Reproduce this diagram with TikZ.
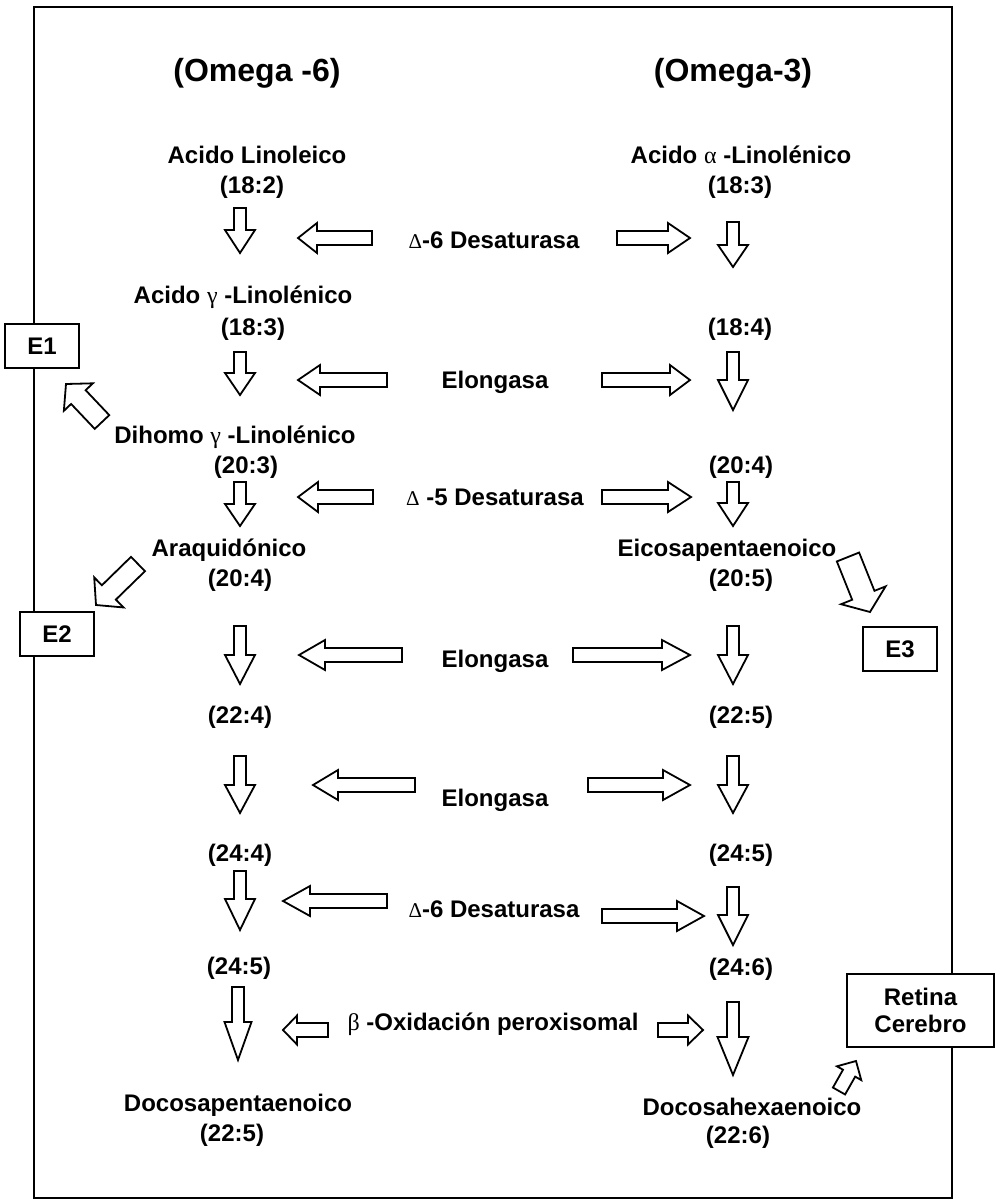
\documentclass[tikz,border=0pt]{standalone}
\usepackage{fontspec}
\setmainfont{Liberation Sans}
\newfontfamily\greekfont{Liberation Serif}
\usetikzlibrary{calc}

\newcommand{\grk}[1]{{\greekfont\mdseries #1}}
\newcommand{\smalldelta}{{\greekfont\mdseries\fontsize{10.5}{10.5}\selectfont Δ}}
% hollow block arrow: tail, tip, half shaft, half head, head length
\newcommand{\blockarrow}[5]{%
  \coordinate (hb) at ($(#2)!#5!(#1)$);
  \draw[blockline] ($(#1)!#3!90:(#2)$) -- ($(hb)!#3!90:(#2)$) -- ($(hb)!#4!90:(#2)$)
    -- (#2) -- ($(hb)!#4!-90:(#2)$) -- ($(hb)!#3!-90:(#2)$) -- ($(#1)!#3!-90:(#2)$) -- cycle;}

\begin{document}
\begin{tikzpicture}[x=0.5pt,y=-0.5pt,
  txt/.style={font=\fontsize{12}{14}\selectfont\bfseries,inner sep=0pt,text height=8.6pt,text depth=0pt},
  head/.style={font=\fontsize{16}{18}\selectfont\bfseries,inner sep=0pt,text height=11.5pt,text depth=0pt},
  ebox/.style={draw,fill=white,line width=0.8pt,font=\fontsize{12}{14}\selectfont\bfseries,inner sep=0pt,
    text height=8.6pt,text depth=0pt,minimum width=37pt,minimum height=22pt},
  blockline/.style={line width=0.9pt,fill=white,line join=miter}]
  \useasboundingbox (0,0) rectangle (999,1201);
  \draw[line width=1.1pt] (34,7) rectangle (952,1198);

  \node[head] (om6) at (257,70) {(Omega -6)};
  \node[head] (om3) at (733,70) {(Omega-3)};

  % omega-6 column
  \node[txt] (lino) at (257,155) {Acido Linoleico};
  \node[txt] (lino2) at (252,185) {(18:2)};
  \node[txt] (gla) at (243,295) {Acido \grk{γ} -Linolénico};
  \node[txt] (gla2) at (253,327) {(18:3)};
  \node[txt] (dgla) at (235,435) {Dihomo \grk{γ} -Linolénico};
  \node[txt] (dgla2) at (246,465) {(20:3)};
  \node[txt] (ara) at (229,548) {Araquidónico};
  \node[txt] (ara2) at (240,578) {(20:4)};
  \node[txt] (l224) at (240,715) {(22:4)};
  \node[txt] (l244) at (240,853) {(24:4)};
  \node[txt] (l245) at (239,966) {(24:5)};
  \node[txt] (dpa) at (238,1103) {Docosapentaenoico};
  \node[txt] (dpa2) at (232,1133) {(22:5)};

  % omega-3 column
  \node[txt] (ala) at (741,155) {Acido \grk{α} -Linolénico};
  \node[txt] (ala2) at (740,185) {(18:3)};
  \node[txt] (r184) at (740,327) {(18:4)};
  \node[txt] (r204) at (741,465) {(20:4)};
  \node[txt] (epa) at (727,548) {Eicosapentaenoico};
  \node[txt] (epa2) at (741,578) {(20:5)};
  \node[txt] (r225) at (741,715) {(22:5)};
  \node[txt] (r245) at (741,853) {(24:5)};
  \node[txt] (r246) at (741,967) {(24:6)};
  \node[txt] (dha) at (752,1107) {Docosahexaenoico};
  \node[txt] (dha2) at (738,1135) {(22:6)};

  % enzymes
  \node[txt] (des6a) at (494,240) {\smalldelta-6 Desaturasa};
  \node[txt] (elo1) at (495,380) {Elongasa};
  \node[txt] (des5) at (495,497) {\smalldelta\ -5 Desaturasa};
  \node[txt] (elo2) at (495,659) {Elongasa};
  \node[txt] (elo3) at (495,798) {Elongasa};
  \node[txt] (des6b) at (494,909) {\smalldelta-6 Desaturasa};
  \node[txt] (boxid) at (493,1022) {\grk{β} -Oxidación peroxisomal};

  % boxes
  \node[ebox] (e1) at (42,346) {E1};
  \node[ebox] (e2) at (57,634) {E2};
  \node[ebox] (e3) at (900,649) {E3};
  \node[draw,fill=white,line width=0.8pt,font=\fontsize{12}{13.5}\selectfont\bfseries,align=center,
    minimum width=73.5pt,minimum height=36.5pt,inner sep=0pt] (ret) at (920.5,1010.5) {Retina\\Cerebro};

  % down arrows
  \blockarrow{240,208}{240,253}{3pt}{7.5pt}{11.5pt}
  \blockarrow{240,352}{240,395}{3pt}{7.5pt}{11pt}
  \blockarrow{240,482}{240,526}{3pt}{7.5pt}{11pt}
  \blockarrow{240,626}{240,684}{3pt}{7.5pt}{14.5pt}
  \blockarrow{240,756}{240,813}{3pt}{7.5pt}{14pt}
  \blockarrow{240,871}{240,930}{3pt}{7.5pt}{15.5pt}
  \blockarrow{238,987}{238,1060}{3pt}{6.75pt}{19pt}
  \blockarrow{733,222}{733,267}{3pt}{7.5pt}{11pt}
  \blockarrow{733,352}{733,410}{3pt}{7.5pt}{15pt}
  \blockarrow{733,482}{733,526}{3pt}{7.5pt}{11.5pt}
  \blockarrow{733,626}{733,684}{3pt}{7.5pt}{14.5pt}
  \blockarrow{733,756}{733,813}{3pt}{7.5pt}{14pt}
  \blockarrow{733,887}{733,945}{3pt}{7.5pt}{15pt}
  \blockarrow{733,1002}{733,1075}{3pt}{7.75pt}{19pt}

  % enzyme arrows
  \blockarrow{372,238}{298,238}{3.5pt}{7.5pt}{9.5pt}
  \blockarrow{387,380}{298,380}{3.5pt}{7.5pt}{11pt}
  \blockarrow{373,497}{298,497}{3.5pt}{7.5pt}{10pt}
  \blockarrow{402,655}{299,655}{3.5pt}{7.5pt}{13pt}
  \blockarrow{415,785}{313,785}{3.5pt}{7.5pt}{12.5pt}
  \blockarrow{387,901}{283,901}{3.5pt}{7.5pt}{13.5pt}
  \blockarrow{328,1030}{283,1030}{3.5pt}{7.25pt}{7pt}
  \blockarrow{617,238}{690,238}{3.5pt}{7.5pt}{11pt}
  \blockarrow{602,380}{690,380}{3.5pt}{7.5pt}{10pt}
  \blockarrow{602,497}{691,497}{3.5pt}{7.5pt}{11.5pt}
  \blockarrow{573,655}{690,655}{3.5pt}{7.5pt}{14pt}
  \blockarrow{588,785}{690,785}{3.5pt}{7.5pt}{13.5pt}
  \blockarrow{602,916}{704,916}{3.5pt}{7.5pt}{13.5pt}
  \blockarrow{658,1030}{703,1030}{3.5pt}{7.25pt}{7.5pt}

  % eicosanoid and tissue arrows
  \blockarrow{102,422}{66,384}{5pt}{10pt}{9pt}
  \blockarrow{138,564}{96,605}{5pt}{10.5pt}{9pt}
  \blockarrow{848,557}{870,612}{6pt}{12pt}{9pt}
  \blockarrow{839,1091}{856,1061}{3.5pt}{7pt}{7pt}
\end{tikzpicture}
\end{document}
